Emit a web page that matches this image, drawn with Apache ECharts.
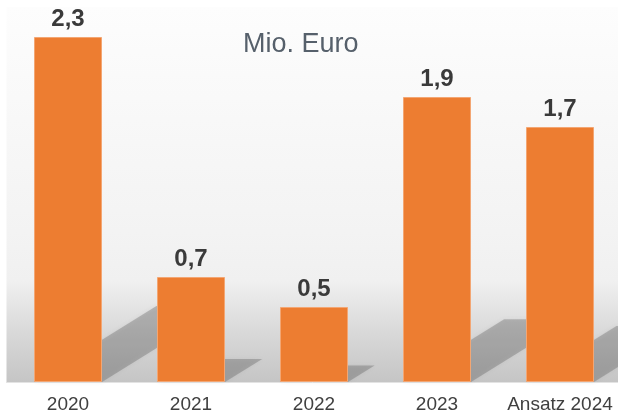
<!DOCTYPE html>
<html>
<head>
<meta charset="utf-8">
<script src="https://cdn.jsdelivr.net/npm/echarts@6/dist/echarts.min.js"></script>
<style>
    html, body {
        margin: 0;
        padding: 0;
        background: #fff;
    }

    #picture {
        width: 618px;
        height: 416px;
    }
</style>
</head>
<body>
<div id="picture"></div>
<script>
    // Daten
    var categories = ['2020', '2021', '2022', '2023', 'Ansatz 2024'];
    var values = [2.3, 0.7, 0.5, 1.9, 1.7];
    var unitLabel = 'Mio. Euro';

    var myChart = echarts.init(document.getElementById('picture'));

    // Schatten hinter den Balken (schraeg nach rechts oben)
    var renderShadow = function(params, api) {
        var base = api.coord([api.value(0), 0]);
        var top = api.coord([api.value(0), api.value(1)]);
        var half = 34;
        var h = (base[1] - top[1]) * 0.22;
        var d = h / 0.62;
        return {
            type: 'polygon',
            shape: {
                points: [
                    [base[0] - half, base[1]],
                    [base[0] - half + d, base[1] - h],
                    [base[0] + half + d, base[1] - h],
                    [base[0] + half, base[1]]
                ]
            },
            style: {
                fill: 'rgba(70,70,70,0.28)',
                shadowBlur: 4,
                shadowColor: 'rgba(70,70,70,0.3)'
            }
        };
    };

    var option = {
        animation: false,
        textStyle: {
            fontFamily: 'Liberation Sans, Arial, sans-serif'
        },
        title: {
            text: unitLabel,
            left: 243,
            top: 31,
            padding: 0,
            textStyle: {
                color: '#56606b',
                fontSize: 27,
                fontWeight: 'normal',
                fontFamily: 'Liberation Sans, Arial, sans-serif'
            }
        },
        grid: {
            left: 6.5,
            width: 615,
            top: 7,
            bottom: 34,
            outerBoundsMode: 'none',
            show: true,
            borderWidth: 0,
            backgroundColor: new echarts.graphic.LinearGradient(0, 0, 0, 1, [
                { offset: 0, color: '#fdfdfd' },
                { offset: 0.6, color: '#f3f3f3' },
                { offset: 0.73, color: '#f0f0f0' },
                { offset: 0.86, color: '#dadada' },
                { offset: 1, color: '#c5c5c5' }
            ])
        },
        xAxis: {
            type: 'category',
            data: categories,
            axisTick: { show: false },
            axisLine: {
                lineStyle: { color: '#e3e3e3', width: 1 }
            },
            axisLabel: {
                interval: 0,
                color: '#404040',
                fontSize: 19,
                margin: 13
            }
        },
        yAxis: {
            type: 'value',
            min: 0,
            max: 2.5,
            show: false,
            splitLine: { show: false }
        },
        series: [{
            type: 'custom',
            renderItem: renderShadow,
            data: values.map(function(v, i) {
                return [i, v];
            }),
            z: 1,
            silent: true
        }, {
            type: 'bar',
            data: values,
            barWidth: 68,
            z: 3,
            itemStyle: {
                color: '#ED7D31',
                borderColor: '#f3a673',
                borderWidth: 1
            },
            label: {
                show: true,
                position: 'top',
                distance: 6,
                color: '#3a3a3a',
                fontSize: 24,
                fontWeight: 'bold',
                formatter: function(p) {
                    return String(p.value).replace('.', ',');
                }
            }
        }]
    };
    myChart.setOption(option);

    window.onresize = function() {
        myChart.resize();
    };
</script>
</body>
</html>
